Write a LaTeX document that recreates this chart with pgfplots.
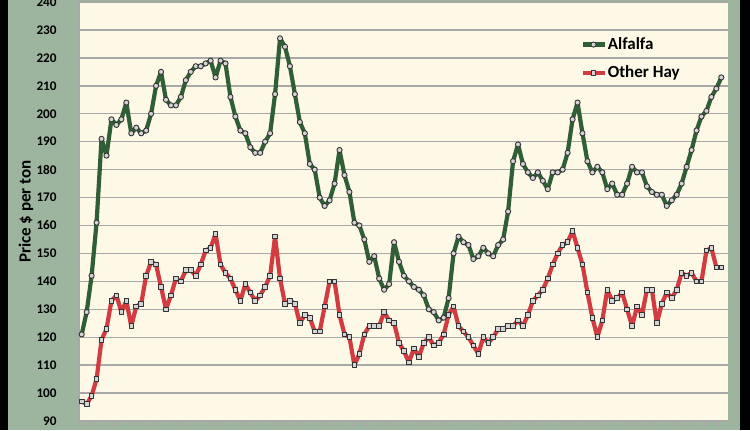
\documentclass[border=0pt]{standalone}
\usepackage{fontspec}
\setmainfont{Carlito}
\usepackage{pgfplots}
\usepackage{pgfplotstable}
\pgfplotsset{compat=1.18}
\definecolor{panel}{HTML}{9DB59F}
\definecolor{cream}{HTML}{FDF9E6}
\definecolor{alf}{HTML}{2F5E37}
\definecolor{hay}{HTML}{D23C41}
\definecolor{gridc}{HTML}{A8A8A8}
\definecolor{mfill}{HTML}{D4D4D4}
\pgfplotstableread{
i alf hay
0 121 97
1 129 96
2 142 99
3 161 105
4 191 119
5 185 123
6 198 133
7 196 135
8 198 129
9 204 133
10 193 124
11 195 131
12 193 132
13 194 142
14 200 147
15 210 146
16 215 138
17 205 130
18 203 135
19 203 141
20 206 140
21 212 144
22 215 144
23 217 142
24 217 146
25 218 151
26 219 152
27 213 157
28 219 146
29 218 143
30 206 141
31 199 137
32 194 133
33 193 139
34 188 136
35 186 133
36 186 135
37 190 138
38 193 142
39 207 156
40 227 141
41 224 132
42 217 133
43 207 132
44 197 125
45 193 128
46 182 127
47 180 122
48 170 122
49 167 131
50 169 140
51 175 140
52 187 128
53 178 121
54 172 120
55 161 110
56 160 114
57 155 121
58 147 124
59 149 124
60 141 124
61 137 129
62 139 126
63 154 125
64 147 118
65 142 115
66 140 111
67 138 116
68 137 113
69 135 118
70 130 120
71 129 117
72 126 118
73 127 121
74 134 128
75 150 131
76 156 124
77 154 122
78 153 120
79 148 117
80 149 114
81 152 120
82 150 118
83 149 120
84 153 123
85 155 123
86 165 124
87 183 124
88 189 126
89 182 124
90 179 128
91 177 133
92 179 135
93 176 137
94 173 141
95 179 146
96 179 150
97 180 153
98 186 154
99 198 158
100 204 152
101 193 146
102 183 136
103 179 127
104 181 120
105 179 126
106 173 137
107 175 133
108 171 134
109 171 136
110 175 130
111 181 124
112 179 131
113 179 128
114 174 137
115 172 137
116 171 125
117 171 132
118 167 136
119 169 134
120 171 137
121 175 143
122 181 142
123 187 143
124 194 140
125 199 140
126 201 151
127 206 152
128 209 145
129 213 145
}\datatable
\begin{document}
\begin{tikzpicture}
\fill[black] (-39.5pt,-4.5pt) rectangle (335.5pt,210.5pt);
\fill[panel] (-35.5pt,-4.5pt) rectangle (330.5pt,210.5pt);
\begin{axis}[
  at={(0,0)}, anchor=south west,
  scale only axis,
  width=324.5pt, height=209.5pt,
  xmin=-0.545, xmax=130.35,
  ymin=90, ymax=240,
  axis background/.style={fill=cream},
  axis x line*=bottom, axis y line*=left,
  axis line style={gridc, line width=0.6pt},
  ytick={90,100,...,240},
  ymajorgrids,
  grid style={gridc, line width=0.7pt},
  xtick={-0.5,0.5,...,129.5},
  xticklabels={},
  tick align=outside,
  major tick length=3pt,
  xtick style={gridc, line width=0.4pt},
  ytick style={draw=none},
  /pgf/number format/assume math mode=true,
  yticklabel style={font=\bfseries\fontsize{6.6}{7}\selectfont, anchor=east, inner sep=0pt, xshift=-8pt},
  ylabel={Price \$ per ton},
  every axis y label/.style={at={(axis description cs:-0.0817,0.5)}, rotate=90, anchor=center, font=\bfseries\fontsize{8.5}{9}\selectfont},
  legend style={at={(0.772,0.92)}, anchor=north west, draw=none, fill=none,
    font=\bfseries\fontsize{8.5}{9}\selectfont, inner sep=0pt, row sep=5.6pt,
    nodes={inner sep=0.6pt}},
  legend cell align=left,
  legend image code/.code={\draw[mark repeat=2,mark phase=2,#1] plot coordinates {(0pt,0pt)(5.5pt,0pt)(11pt,0pt)};},
]
\addplot[alf, line width=2.1pt, line join=round, mark=*, mark size=1.3pt,
  mark options={fill=mfill, draw=black!80, line width=0.45pt, solid}]
  table[x=i, y=alf] {\datatable};
\addlegendentry{Alfalfa}
\addplot[hay, line width=2.1pt, line join=round, mark=square*, mark size=1.15pt,
  mark options={fill=mfill, draw=black!80, line width=0.45pt, solid}]
  table[x=i, y=hay] {\datatable};
\addlegendentry{Other Hay}
\end{axis}
\pgfresetboundingbox
\useasboundingbox (-39.5pt,-4.5pt) rectangle (335.5pt,210.5pt);
\end{tikzpicture}
\end{document}
